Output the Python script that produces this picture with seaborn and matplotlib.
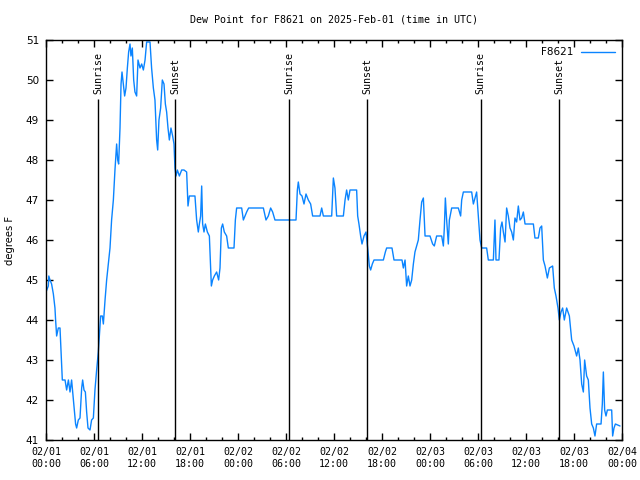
import matplotlib
matplotlib.use('Agg')
import matplotlib.pyplot as plt
import seaborn as sns
import pandas as pd
from matplotlib.ticker import FixedLocator, MultipleLocator

# ---- data (hours since 2025-02-01 00:00 UTC, dew point in degrees F) ----
hours = [0.0, 0.29, 0.35, 0.5, 0.7, 0.92, 1.12, 1.2, 1.33, 1.54, 1.75, 1.88, 2.04, 2.38,
         2.58, 2.8, 3.0, 3.2, 3.42, 3.54, 3.7, 3.83, 4.04, 4.25, 4.46, 4.58, 4.75, 4.92,
         5.08, 5.25, 5.5, 5.7, 5.92, 6.12, 6.33, 6.54, 6.67, 6.83, 7.04, 7.17, 7.38, 7.58,
         7.79, 8.0, 8.2, 8.42, 8.62, 8.83, 8.96, 9.08, 9.25, 9.38, 9.5, 9.67, 9.83, 10.0,
         10.17, 10.33, 10.5, 10.62, 10.79, 10.96, 11.12, 11.33, 11.5, 11.75, 11.96, 12.17,
         12.38, 12.58, 13.0, 13.2, 13.42, 13.62, 13.83, 13.96, 14.12, 14.33, 14.54, 14.75,
         14.92, 15.08, 15.25, 15.42, 15.62, 15.83, 16.0, 16.12, 16.25, 16.42, 16.67, 16.96,
         17.25, 17.58, 17.75, 17.92, 18.2, 18.62, 18.83, 19.04, 19.17, 19.33, 19.46, 19.58,
         19.75, 19.92, 20.17, 20.42, 20.54, 20.67, 20.83, 21.04, 21.33, 21.58, 21.75, 21.92,
         22.08, 22.29, 22.58, 22.79, 23.5, 23.67, 23.83, 24.46, 24.67, 25.08, 25.33, 27.17,
         27.5, 27.79, 28.08, 28.33, 28.62, 31.25, 31.42, 31.54, 31.75, 32.0, 32.25, 32.5,
         32.79, 33.08, 33.33, 34.25, 34.46, 34.67, 35.71, 35.92, 36.12, 36.33, 37.17, 37.38,
         37.58, 37.79, 38.0, 38.83, 38.96, 39.12, 39.33, 39.5, 39.75, 40.0, 40.21, 40.42,
         40.58, 40.79, 41.0, 42.17, 42.42, 42.58, 43.25, 43.5, 44.5, 44.67, 44.88, 45.08,
         45.29, 45.5, 45.71, 45.92, 46.12, 46.33, 46.54, 46.75, 46.96, 47.17, 47.38, 48.0,
         48.33, 48.54, 48.83, 49.46, 49.67, 49.79, 49.92, 50.08, 50.29, 50.42, 50.71, 51.54,
         51.83, 51.96, 52.17, 53.21, 53.42, 53.62, 53.83, 54.04, 54.25, 54.46, 55.08, 55.29,
         55.92, 56.12, 56.25, 56.62, 56.83, 57.0, 57.17, 57.38, 57.58, 57.79, 58.0, 58.21,
         58.42, 58.62, 58.83, 59.04, 59.25, 59.46, 59.67, 59.88, 60.92, 61.12, 61.54, 61.75,
         61.96, 62.17, 62.38, 62.67, 62.92, 63.33, 63.54, 63.75, 64.0, 64.17, 64.38, 64.58,
         64.79, 65.08, 65.42, 65.71, 66.0, 66.33, 66.54, 66.75, 66.96, 67.17, 67.33, 67.58,
         67.79, 68.0, 68.21, 68.42, 68.62, 68.83, 69.38, 69.54, 69.67, 69.83, 70.0, 70.17,
         70.71, 70.83, 71.0, 71.17, 71.75]
dewpoint = [44.7, 44.85, 45.1, 45.0, 44.9, 44.65, 44.3, 44.0, 43.6, 43.8, 43.8, 43.2, 42.5, 42.5,
            42.25, 42.5, 42.2, 42.5, 42.0, 41.75, 41.4, 41.3, 41.5, 41.55, 42.3, 42.5, 42.25, 42.2,
            41.7, 41.3, 41.25, 41.5, 41.55, 42.25, 42.75, 43.2, 43.6, 44.1, 44.1, 43.9, 44.5, 45.0,
            45.4, 45.8, 46.5, 47.0, 47.75, 48.4, 48.0, 47.9, 48.8, 49.9, 50.2, 49.9, 49.6, 49.8,
            50.3, 50.7, 50.9, 50.6, 50.8, 50.0, 49.7, 49.6, 50.5, 50.3, 50.4, 50.25,
            50.5, 50.95, 50.95, 50.3, 49.8, 49.5, 48.5, 48.25, 49.0, 49.3, 50.0, 49.9,
            49.4, 49.2, 48.8, 48.5, 48.8, 48.6, 48.4, 47.8, 47.6, 47.75, 47.6, 47.75,
            47.75, 47.7, 46.85, 47.1, 47.1, 47.1, 46.5, 46.2, 46.4, 46.6, 47.35, 46.4,
            46.2, 46.4, 46.2, 46.1, 45.5, 44.85, 45.0, 45.1, 45.2, 45.0, 45.3, 46.3,
            46.4, 46.2, 46.1, 45.8, 45.8, 46.5, 46.8, 46.8, 46.5, 46.7, 46.8, 46.8,
            46.5, 46.6, 46.8, 46.7, 46.5, 46.5, 47.25, 47.45, 47.15, 47.1, 46.9, 47.15,
            47.0, 46.9, 46.6, 46.6, 46.8, 46.6, 46.6, 47.55, 47.3, 46.6, 46.6, 47.0,
            47.25, 47.0, 47.25, 47.25, 46.6, 46.4, 46.1, 45.9, 46.1, 46.2, 45.8, 45.35,
            45.25, 45.4, 45.5, 45.5, 45.7, 45.8, 45.8, 45.5, 45.5, 45.3, 45.5, 44.85,
            45.1, 44.85, 45.0, 45.4, 45.7, 45.85, 46.0, 46.5, 46.95, 47.05, 46.1, 46.1,
            45.9, 45.85, 46.1, 46.1, 45.85, 46.3, 47.05, 46.5, 45.9, 46.5, 46.8, 46.8,
            46.6, 47.0, 47.2, 47.2, 46.9, 47.05, 47.2, 46.6, 46.0, 45.8, 45.8, 45.5,
            45.5, 46.5, 45.5, 45.5, 46.3, 46.45, 46.2, 45.95, 46.8, 46.6, 46.3, 46.2,
            46.0, 46.55, 46.45, 46.85, 46.5, 46.55, 46.7, 46.4, 46.4, 46.05, 46.05, 46.3,
            46.35, 45.5, 45.35, 45.05, 45.3, 45.35, 44.8, 44.6, 44.3, 44.0, 44.2, 44.3,
            44.0, 44.3, 44.1, 43.5, 43.35, 43.1, 43.3, 43.0, 42.4, 42.2, 43.0, 42.6,
            42.5, 41.8, 41.4, 41.3, 41.1, 41.4, 41.4, 41.9, 42.7, 41.75, 41.6, 41.75,
            41.75, 41.1, 41.3, 41.4, 41.35]
station = 'F8621'
event_hours = [6.54, 16.17, 30.41, 40.16, 54.33, 64.16]
event_labels = ['Sunrise', 'Sunset', 'Sunrise', 'Sunset', 'Sunrise', 'Sunset']
xtick_hours = [0, 6, 12, 18, 24, 30, 36, 42, 48, 54, 60, 66, 72]
xtick_labels = ['02/01\n00:00', '02/01\n06:00', '02/01\n12:00', '02/01\n18:00',
                '02/02\n00:00', '02/02\n06:00', '02/02\n12:00', '02/02\n18:00',
                '02/03\n00:00', '02/03\n06:00', '02/03\n12:00', '02/03\n18:00',
                '02/04\n00:00']
yticks = [41, 42, 43, 44, 45, 46, 47, 48, 49, 50, 51]
title = 'Dew Point for F8621 on 2025-Feb-01 (time in UTC)'
ylabel = 'degrees F'

sns.set_theme(style='white')
plt.rcParams['font.family'] = ['DejaVu Sans']
mono = 'DejaVu Sans Mono'
line_color = '#0a84ff'

fig = plt.figure(figsize=(6.4, 4.8), dpi=100)
ax = fig.add_axes([46 / 640, 40 / 480, 576 / 640, 400 / 480])

df = pd.DataFrame({'hours': hours, 'dew': dewpoint, 'station': station})
sns.lineplot(data=df, x='hours', y='dew', hue='station', palette=[line_color],
             linewidth=1, estimator=None, sort=False, ax=ax)

ax.vlines(event_hours, 41, 49.52, colors='black', linewidth=1, zorder=3)
for h, lab in zip(event_hours, event_labels):
    ax.text(h, 49.66, lab, rotation=90, ha='center', va='bottom',
            fontsize=7.2, family=mono, color='black')

ax.set_xlim(0, 72)
ax.set_ylim(41, 51)
ax.xaxis.set_major_locator(FixedLocator(xtick_hours))
ax.set_xticklabels(xtick_labels, family=mono, fontsize=7.2)
ax.xaxis.set_minor_locator(MultipleLocator(2))
ax.yaxis.set_major_locator(FixedLocator(yticks))
ax.set_yticklabels([str(v) for v in yticks], fontsize=7.5)
ax.tick_params(axis='both', which='both', direction='in', top=True, right=True,
               bottom=True, left=True, colors='black')
ax.tick_params(axis='both', which='major', length=5, width=1)
ax.tick_params(axis='both', which='minor', length=2.5, width=1)
ax.tick_params(axis='x', which='major', pad=5)
ax.tick_params(axis='y', which='major', pad=5)
for s in ax.spines.values():
    s.set_color('black')
    s.set_linewidth(1)
ax.set_xlabel('')
ax.set_ylabel('')

leg = ax.legend(loc='upper right', frameon=False, markerfirst=False,
                handlelength=3.2, fontsize=7.5, borderaxespad=0.3,
                handletextpad=0.8)
for t in leg.get_texts():
    t.set_color('black')

fig.text(334 / 640, 1 - 19 / 480, title, ha='center', va='center',
         family=mono, fontsize=7.2, color='black')
fig.text(10 / 640, 0.5, ylabel, rotation=90, ha='center', va='center',
         fontsize=7.2, color='black')

fig.savefig('out.png', dpi=100)
